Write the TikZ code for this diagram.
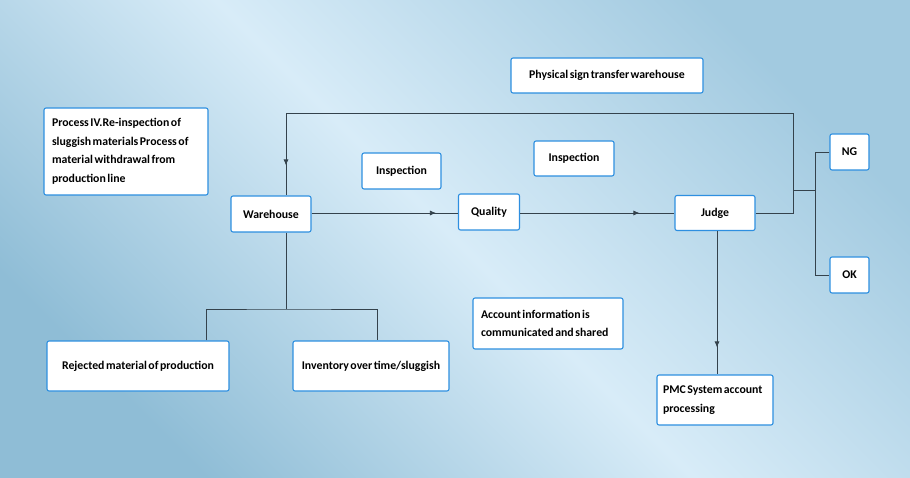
\documentclass[tikz,border=0pt]{standalone}
\usepackage{fontspec}
\setmainfont[WordSpace=0.55]{Carlito}
\usetikzlibrary{arrows.meta,decorations.markings,positioning}
\definecolor{boxblue}{HTML}{2E8FE0}
\definecolor{linegray}{HTML}{34424C}
\definecolor{bgleft}{HTML}{A2CAE0}
\definecolor{bgmid}{HTML}{D8ECF8}
\definecolor{bgright}{HTML}{8FBDD6}

\begin{document}
\begin{tikzpicture}[x=1pt, y=-1pt,
  every node/.style={font=\bfseries\fontsize{11.8}{18.5}\selectfont, text=black},
  box/.style={rectangle, draw=boxblue, fill=white, line width=1.1pt, rounded corners=2pt, inner sep=0pt},
  notebox/.style={box, align=left, execute at begin node={\spaceskip=0.13em plus 0.05em\relax\hyphenpenalty=10000\relax}},
  wire/.style={draw=linegray, line width=0.75pt},
  midarrow/.style={wire, postaction={decorate},
    decoration={markings, mark=at position #1 with {\arrow{Latex[length=6pt,width=5pt]}}}}
]

% background
\shade[left color=bgleft, right color=bgright, middle color=bgmid, shading angle=-45] (0,0) rectangle (910,478);

% Left note
\node[notebox, text width=148pt, minimum height=87pt, inner xsep=8pt] (process) at (126,151.5) {
  Process IV.Re-inspection of\\
  sluggish materials Process of\\
  material withdrawal from\\
  production line
};

% Main flow
\node[box, minimum width=80pt, minimum height=36pt] (warehouse) at (271,214) {Warehouse};
\node[box, minimum width=61pt, minimum height=36pt] (quality) at (489,212) {Quality};
\node[box, minimum width=80pt, minimum height=35pt] (judge) at (715,213) {Judge};

% Labels
\node[box, minimum width=79pt, minimum height=36pt] (insp1) at (401.5,171) {Inspection};
\node[box, minimum width=80pt, minimum height=35pt] (insp2) at (574,158.5) {Inspection};
\node[box, minimum width=192pt, minimum height=35pt] (transfer) at (607,75.5) {Physical sign transfer warehouse};
\node[notebox, text width=134pt, minimum height=51pt, inner xsep=8pt] (account) at (548,323.5) {
  Account information is\\
  communicated and shared
};

% Results
\node[box, minimum width=39pt, minimum height=36pt] (ng) at (849.5,152) {NG};
\node[box, minimum width=39pt, minimum height=36pt] (ok) at (849.5,275) {OK};

% Bottom boxes
\node[box, minimum width=182pt, minimum height=50pt] (reject) at (138,366) {Rejected material of production};
\node[box, minimum width=156pt, minimum height=50pt] (inventory) at (371,366) {Inventory over time/sluggish};
\node[notebox, text width=104pt, minimum height=50pt, inner xsep=6pt] (pmc) at (715,400) {
  PMC System account\\
  processing
};

% Coordinates
\coordinate (loop) at (793,113);
\coordinate (junction) at (793,190);
\coordinate (split) at (815,190);
\coordinate (fork) at (286,309);

% Arrows
\draw[midarrow=-22pt] (warehouse.east |- judge.west) -- (quality.west |- judge.west);
\draw[midarrow=-35pt] (quality.east |- judge.west) -- (judge.west);
\draw[midarrow=-30pt] (judge.east) -| (loop) -| ([xshift=15pt]warehouse.north);
\draw[midarrow=-27pt] ([xshift=2pt]judge.south) -- ([xshift=2pt]judge.south |- pmc.north);
\draw[wire] (junction) -- (split);
\draw[wire] (ng.west) -| (split) |- (ok.west);
\draw[wire] ([xshift=15pt]warehouse.south) -- (fork);
\draw[wire] ([xshift=68pt]reject.north) |- (fork) -| ([xshift=6pt]inventory.north);

\end{tikzpicture}
\end{document}
